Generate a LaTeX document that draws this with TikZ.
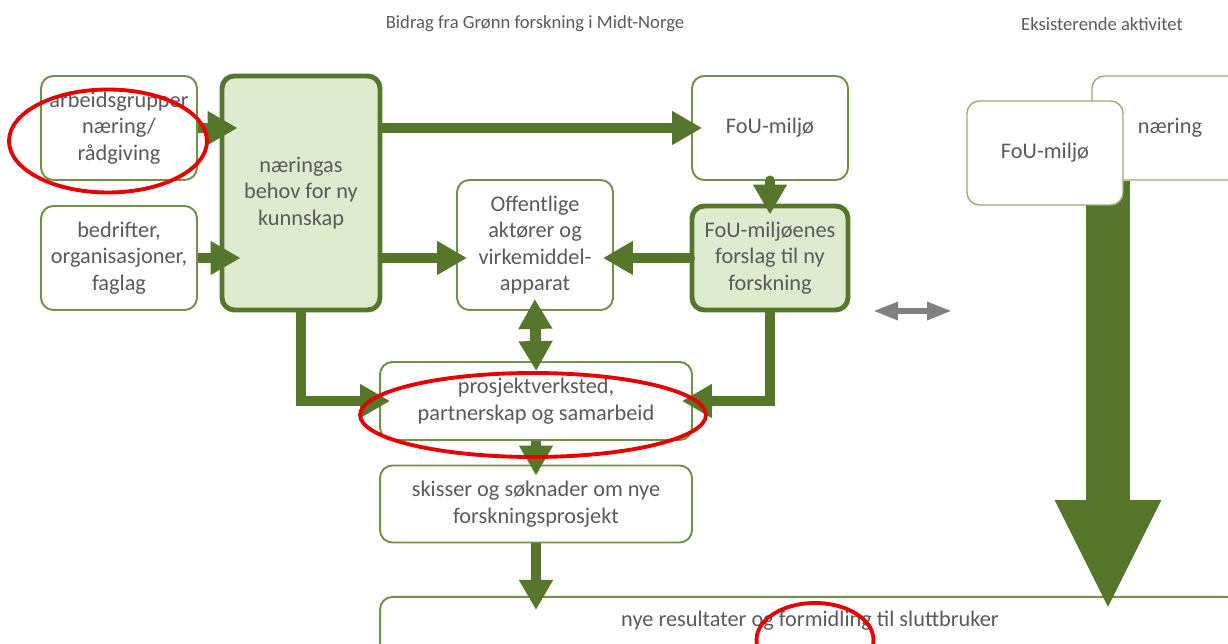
\documentclass[tikz,border=0pt]{standalone}
\usepackage{fontspec}
\setmainfont{Carlito}
\usepackage{tikz}
\usetikzlibrary{arrows.meta}
\usetikzlibrary{positioning, shapes.geometric}
\definecolor{gfgreen}{RGB}{86,119,43}
\definecolor{gfborder}{RGB}{112,145,70}
\definecolor{gflight}{RGB}{150,175,118}
\definecolor{gffill}{RGB}{222,235,207}
\definecolor{gftext}{RGB}{90,90,90}
\definecolor{gfgrey}{RGB}{128,128,128}
\definecolor{gfred}{RGB}{232,0,0}
\tikzset{every picture/.style={line width=0.75pt}}

\begin{document}
\begin{tikzpicture}[x=0.02cm, y=-0.02cm,
  box/.style={draw=gfborder, line width=1.1pt, rounded corners=7pt, fill=white, text=gftext,
    align=center, font=\fontsize{12.7}{15}\selectfont, minimum width=3.12cm, minimum height=2.08cm, inner sep=0pt},
  mainbox/.style={box, draw=gfgreen, line width=2.8pt, fill=gffill},
  flow/.style={draw=gfgreen, line width=6.2pt, -{Triangle[length=0.6cm, width=0.64cm]}, shorten >=-0.22cm},
  ring/.style={draw=gfred, line width=2.2pt},
  heading/.style={text=gftext, font=\fontsize{10.6}{12}\selectfont}]
\clip (0,0) rectangle (1228,644);

\node[heading] (titleleft) at (535,24) {Bidrag fra Grønn forskning i Midt-Norge};
\node[heading] (titleright) at (1102,24) {Eksisterende aktivitet};

\node[box] (arb) at (119,128) {arbeidsgrupper\\næring/\\rådgiving};
\node[box] (bed) at (119,258) {bedrifter,\\organisasjoner,\\faglag};
\node[mainbox, minimum width=3.16cm, minimum height=4.68cm] (behov) at (301,193) {næringas\\behov for ny\\kunnskap};
\node[box] (fou) at (770,128) {FoU-miljø};
\node[box, minimum height=2.6cm] (off) at (535,245) {Offentlige\\aktører og\\virkemiddel-\\apparat};
\node[mainbox] (forslag) at (770,258) {FoU-miljøenes\\forslag til ny\\forskning};
\node[box, minimum width=6.24cm, minimum height=1.56cm] (prosj) at (536,401) {prosjektverksted,\\partnerskap og samarbeid};
\node[box, minimum width=6.24cm, minimum height=1.54cm] (skisser) at (536,504) {skisser og søknader om nye\\forskningsprosjekt};
\node[box, anchor=north, minimum width=17.2cm, minimum height=0pt, text height=0.6cm, text depth=0.8cm] (nye) at (810,596) {nye resultater og formidling til sluttbruker};

\node[box, draw=gflight, line width=0.8pt] (naering) at (1170,128) {næring};
\coordinate (bigtip) at (1108,610);
\draw[gfgreen, line width=0.88cm, -{Triangle[length=2.2cm, width=1.96cm]}] (naering.south -| bigtip) -- (bigtip);
\node[box, draw=gflight, line width=0.8pt] (fouright) at (1045,153) {FoU-miljø};

\draw[flow, shorten >=-0.36cm] (arb.east) -- (behov.west |- arb.east);
\draw[flow, shorten >=-0.42cm] (bed.east) -- (behov.west |- bed.east);
\draw[flow] (behov.east |- fou.west) -- (fou.west);
\draw[flow] (behov.east |- bed.east) -- (off.west |- bed.east);
\draw[flow, line cap=round] (fou.south) -- (forslag.north);
\draw[flow, line cap=round] (forslag.west) -- (off.east |- forslag.west);
\draw[flow, {Triangle[length=0.6cm, width=0.64cm]}-{Triangle[length=0.6cm, width=0.64cm]}, shorten <=-0.24cm, shorten >=-0.2cm] (off.south) -- (prosj.north);
\draw[flow] (behov.south) |- (prosj.west);
\draw[flow] (forslag.south) |- (prosj.east);
\draw[flow] (prosj.south) -- (skisser.north);
\draw[flow, shorten >=-0.28cm] (skisser.south) -- (skisser.south |- nye.north);

\coordinate (greyleft) at (873,311);
\coordinate (greyright) at (952,311);
\draw[gfgrey, line width=3.4pt, {Triangle[length=0.5cm, width=0.34cm]}-{Triangle[length=0.5cm, width=0.34cm]}] (greyleft) -- (greyright);

\draw[ring] (108,141) ellipse [x radius=1.98cm, y radius=1.03cm];
\draw[ring] (533,415) ellipse [x radius=3.46cm, y radius=0.84cm];
\draw[ring] (815,640) ellipse [x radius=1.17cm, y radius=0.74cm];
\end{tikzpicture}
\end{document}
